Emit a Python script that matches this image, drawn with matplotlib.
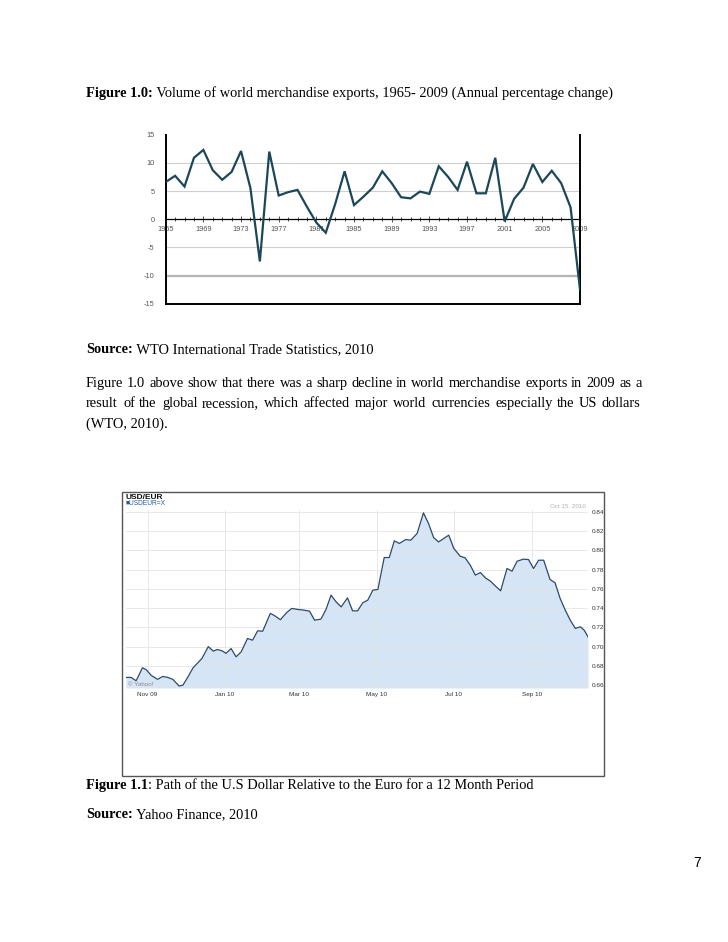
import numpy as np
import pandas as pd
import matplotlib
matplotlib.use("Agg")
import matplotlib.pyplot as plt
import matplotlib.dates as mdates
from matplotlib.patches import Rectangle

plt.rcParams['axes.unicode_minus'] = False

W, H = 728, 942

# Figure 1.0 - volumen de exportaciones (cambio % anual)
anios = list(range(1965, 2010))
exportaciones = [6.6, 7.7, 5.8, 10.9, 12.3, 8.7, 7.0, 8.4, 12.1, 5.5,
                 -7.5, 12.0, 4.2, 4.8, 5.2, 2.2, -0.6, -2.4, 2.7, 8.5,
                 2.5, 4.0, 5.6, 8.5, 6.4, 3.9, 3.7, 4.9, 4.5, 9.4,
                 7.5, 5.2, 10.2, 4.6, 4.6, 10.9, -0.4, 3.6, 5.6, 9.8,
                 6.6, 8.6, 6.4, 2.1, -12.5]

# Figure 1.1 - USD/EUR
fechas = ["2009-10-15", "2009-10-19", "2009-10-23", "2009-10-28", "2009-10-31",
          "2009-11-04", "2009-11-09", "2009-11-13", "2009-11-17", "2009-11-21",
          "2009-11-26", "2009-11-29", "2009-12-03", "2009-12-07", "2009-12-14",
          "2009-12-19", "2009-12-23", "2009-12-26", "2009-12-30", "2010-01-02",
          "2010-01-06", "2010-01-10", "2010-01-14", "2010-01-19", "2010-01-23",
          "2010-01-27", "2010-01-31", "2010-02-06", "2010-02-09", "2010-02-14",
          "2010-02-19", "2010-02-23", "2010-02-28", "2010-03-04", "2010-03-09",
          "2010-03-13", "2010-03-18", "2010-03-22", "2010-03-26", "2010-03-30",
          "2010-04-03", "2010-04-08", "2010-04-12", "2010-04-16", "2010-04-20",
          "2010-04-24", "2010-04-28", "2010-05-02", "2010-05-07", "2010-05-11",
          "2010-05-15", "2010-05-19", "2010-05-24", "2010-05-28", "2010-06-02",
          "2010-06-07", "2010-06-11", "2010-06-15", "2010-06-19", "2010-06-23",
          "2010-06-27", "2010-07-01", "2010-07-06", "2010-07-10", "2010-07-14",
          "2010-07-18", "2010-07-22", "2010-07-26", "2010-07-30", "2010-08-03",
          "2010-08-07", "2010-08-12", "2010-08-16", "2010-08-20", "2010-08-25",
          "2010-08-29", "2010-09-02", "2010-09-06", "2010-09-10", "2010-09-15",
          "2010-09-19", "2010-09-23", "2010-09-27", "2010-10-01", "2010-10-05",
          "2010-10-09", "2010-10-12", "2010-10-15"]
usdeur = [0.668, 0.668, 0.6645, 0.678, 0.676, 0.670, 0.666, 0.669, 0.668, 0.666,
          0.659, 0.660, 0.6686, 0.678, 0.6877, 0.700, 0.6953, 0.697, 0.6956, 0.693,
          0.698, 0.6894, 0.6946, 0.7085, 0.7067, 0.7164, 0.716, 0.7345, 0.7325, 0.728,
          0.7355, 0.7397, 0.7386, 0.738, 0.7369, 0.7275, 0.7286, 0.7386, 0.7535, 0.7465,
          0.7413, 0.7507, 0.7372, 0.7372, 0.7455, 0.7483, 0.7587, 0.7594, 0.7926, 0.7926,
          0.8099, 0.8072, 0.8113, 0.8106, 0.8176, 0.839, 0.828, 0.8134, 0.8088, 0.8124,
          0.8158, 0.802, 0.794, 0.7922, 0.7846, 0.7743, 0.777, 0.7714, 0.768, 0.7628,
          0.758, 0.7812, 0.7784, 0.7888, 0.7909, 0.7905, 0.7812, 0.7898, 0.7898, 0.7698,
          0.7663, 0.750, 0.738, 0.7275, 0.7189, 0.7206, 0.7171, 0.7102]
ticks_usd = [0.66, 0.68, 0.70, 0.72, 0.74, 0.76, 0.78, 0.80, 0.82, 0.84]

fig = plt.figure(figsize=(W / 100, H / 100), dpi=100)
rend = fig.canvas.get_renderer()
SERIF = 'Liberation Serif'
SANS = 'Liberation Sans'
FS = 10.4


def rect(x0, y0, x1, y1):
    return [x0 / W, 1 - y1 / H, (x1 - x0) / W, (y1 - y0) / H]


def runs(x, y, partes, size=FS):
    for txt, peso in partes:
        t = fig.text(x / W, 1 - y / H, txt, fontsize=size, fontweight=peso,
                     family=SERIF, va='baseline')
        x += t.get_window_extent(rend).width


def justificar(y, linea, x0=86, x1=641):
    palabras = linea.split()
    textos = [fig.text(0, 0, p, fontsize=FS, family=SERIF, va='baseline') for p in palabras]
    anchos = [t.get_window_extent(rend).width for t in textos]
    hueco = (x1 - x0 - sum(anchos)) / (len(palabras) - 1)
    x = x0
    for t, a in zip(textos, anchos):
        t.set_position((round(x) / W, 1 - y / H))
        x += a + hueco


# --- textos de la pagina
runs(86, 97, [("Figure 1.0:", 'bold'),
              (" Volume of world merchandise exports, 1965- 2009 (Annual percentage change)", 'normal')])
runs(86, 353, [("Source:", 'bold'), (" WTO International Trade Statistics, 2010", 'normal')])
justificar(386.5, "Figure 1.0 above show that there was a sharp decline in world merchandise exports in 2009 as a")
justificar(407, "result of the global recession, which affected major world currencies especially the US dollars")
runs(86, 428, [("(WTO, 2010).", 'normal')])
runs(86, 789, [("Figure 1.1", 'bold'),
               (": Path of the U.S Dollar Relative to the Euro for a 12 Month Period", 'normal')])
runs(86, 818, [("Source:", 'bold'), (" Yahoo Finance, 2010", 'normal')])
fig.text(697 / W, 1 - 867 / H, "7", fontsize=10, family=SANS, ha='center', va='baseline')

# --- Figure 1.0
ax = fig.add_axes(rect(165.7, 134.7, 580, 303.7))
ax.plot(anios, exportaciones, color='#1c4758', lw=1.6, solid_joinstyle='miter', zorder=3)
ax.set_xlim(1965, 2009)
ax.set_ylim(-15, 15)
for v in [10, 5, -5]:
    ax.axhline(v, color='#cfcfcf', lw=0.8, zorder=1)
ax.axhline(-10, color='#b5b5b5', lw=1.6, zorder=1)
ax.axhline(-15, color='black', lw=1.4, clip_on=False, zorder=2)
ax.spines['top'].set_visible(False)
ax.spines['bottom'].set_position(('data', 0))
ax.spines['bottom'].set_linewidth(0.9)
for s in ['left', 'right']:
    ax.spines[s].set_linewidth(1.4)
ax.set_xticks(range(1965, 2010, 4))
ax.set_xticks(anios, minor=True)
ax.set_yticks(range(-15, 16, 5))
ax.tick_params(axis='x', which='both', direction='inout', width=0.6, color='#333',
               labelsize=5.3, labelcolor='#555', pad=3)
ax.tick_params(axis='x', which='major', length=4)
ax.tick_params(axis='x', which='minor', length=3)
ax.tick_params(axis='y', length=0, pad=8, labelsize=5.3, labelcolor='#555')
for t in ax.get_xticklabels() + ax.get_yticklabels():
    t.set_family(SANS)

# --- Figure 1.1
fig.add_artist(Rectangle((122 / W, 1 - 776 / H), 482 / W, 284 / H, fill=False,
                         ec='#555555', lw=1.0, transform=fig.transFigure))
fx = pd.to_datetime(fechas)
ax2 = fig.add_axes(rect(126, 510, 588, 688))
ymin, ymax = 0.657, 0.842
ax2.fill_between(fx, usdeur, ymin, color='#d5e5f5', lw=0, zorder=1)
ax2.plot(fx, usdeur, color='#2a4a6c', lw=0.9, zorder=3)
ax2.set_xlim(pd.Timestamp("2009-10-15"), pd.Timestamp("2010-10-15"))
ax2.set_ylim(ymin, ymax)
ax2.yaxis.tick_right()
ax2.set_yticks(ticks_usd)
ax2.yaxis.set_major_formatter(matplotlib.ticker.FormatStrFormatter('%.2f'))
ax2.xaxis.set_major_locator(mdates.MonthLocator(bymonth=[1, 3, 5, 7, 9, 11]))
ax2.xaxis.set_major_formatter(mdates.DateFormatter('%b %y'))
ax2.grid(True, color='#e4e4e4', lw=0.6, zorder=2)
ax2.set_axisbelow(False)
for s in ax2.spines.values():
    s.set_visible(False)
ax2.tick_params(axis='both', length=0, labelsize=4.6, labelcolor='#333')
ax2.tick_params(axis='y', pad=3)
ax2.tick_params(axis='x', pad=3)
for t in ax2.get_xticklabels() + ax2.get_yticklabels():
    t.set_family(SANS)

fig.text(126 / W, 1 - 498.5 / H, "USD/EUR", fontsize=6, fontweight='bold', family=SANS,
         va='baseline', color='#111')
fig.text(126 / W, 1 - 505 / H, "\u25a0USDEUR=X", fontsize=4.8, family=SANS,
         va='baseline', color='#1f5a9c')
fig.text(586 / W, 1 - 507 / H, "Oct 15, 2010", fontsize=4.5, family=SANS,
         va='baseline', ha='right', color='#b0b0b0')
fig.text(128 / W, 1 - 686 / H, "\u00a9 Yahoo!", fontsize=4.5, family=SANS,
         va='baseline', color='#8a8a8a')

fig.savefig("out.png", dpi=100)
